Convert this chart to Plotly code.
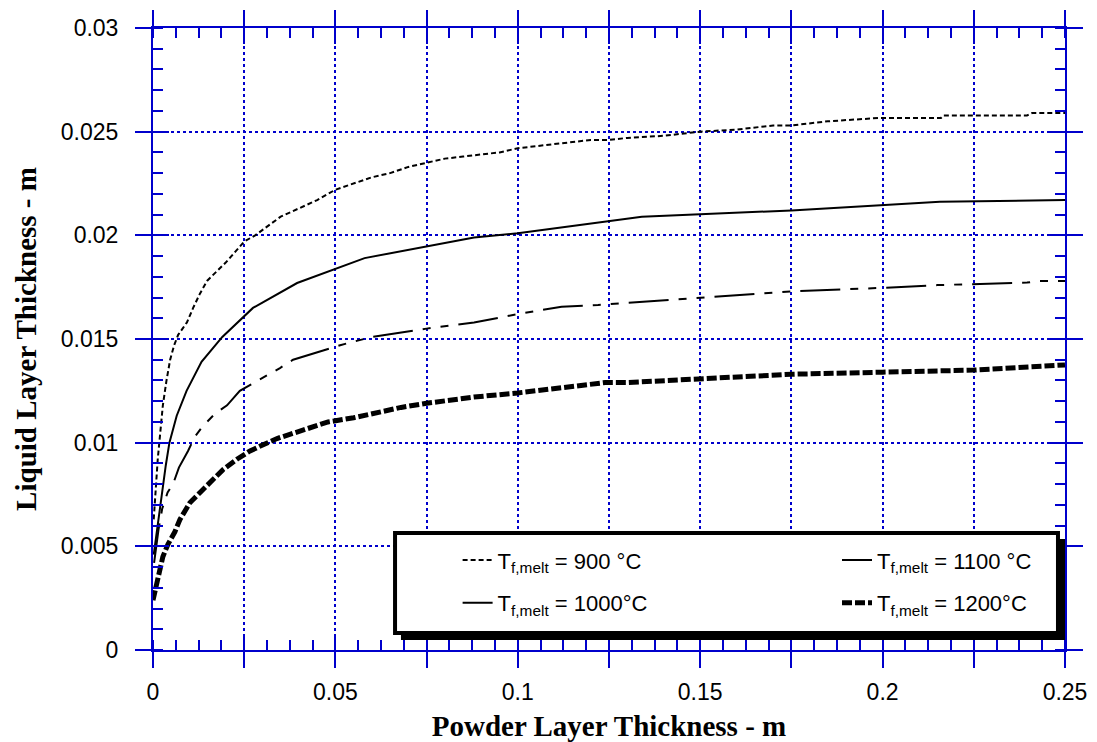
import plotly.graph_objects as go

# ---------------- data ----------------
x900 = [0.0002, 0.0008, 0.0013, 0.0020, 0.0027, 0.0037, 0.0047, 0.0058, 0.0069, 0.0081,
        0.0093, 0.011, 0.0129, 0.0148, 0.017, 0.020, 0.023, 0.025, 0.028, 0.031,
        0.035, 0.040, 0.045, 0.050, 0.055, 0.060, 0.065, 0.070, 0.075, 0.080,
        0.085, 0.090, 0.095, 0.100, 0.110, 0.120, 0.125, 0.130, 0.140, 0.150,
        0.160, 0.170, 0.175, 0.185, 0.199, 0.216, 0.2166, 0.2396, 0.241, 0.25]
y900 = [0.0063, 0.0080, 0.0092, 0.0105, 0.0118, 0.0130, 0.0140, 0.0147, 0.0152, 0.0155,
        0.0158, 0.0165, 0.0172, 0.0178, 0.0182, 0.0187, 0.0193, 0.0197, 0.0200, 0.0204,
        0.0209, 0.0213, 0.0217, 0.0222, 0.0225, 0.0228, 0.0230, 0.0233, 0.0235, 0.0237,
        0.0238, 0.0239, 0.0240, 0.0242, 0.0244, 0.0246, 0.0246, 0.0247, 0.0248, 0.0250,
        0.0251, 0.0253, 0.0253, 0.0255, 0.02566, 0.02566, 0.02578, 0.02578, 0.0259, 0.0259]

x1000 = [0.0002, 0.0005, 0.0015, 0.0025, 0.0035, 0.0045, 0.0065, 0.0092, 0.0133, 0.019,
         0.0274, 0.0395, 0.058, 0.088, 0.100, 0.134, 0.175, 0.2157, 0.25]
y1000 = [0.0046, 0.0050, 0.0064, 0.0077, 0.0089, 0.0100, 0.0113, 0.0125, 0.0139, 0.0151,
         0.0165, 0.0177, 0.0189, 0.0199, 0.0201, 0.0209, 0.0212, 0.02162, 0.0217]

x1100 = [0.0003, 0.0015, 0.0025, 0.0040, 0.0055, 0.0071, 0.0096, 0.0115, 0.0137, 0.017,
         0.0203, 0.0238, 0.0348, 0.0384, 0.0513, 0.060, 0.075, 0.088, 0.100, 0.112,
         0.122, 0.135, 0.150, 0.175, 0.199, 0.215, 0.2396, 0.243, 0.25]
y1100 = [0.0042, 0.0058, 0.0068, 0.0076, 0.0080, 0.0088, 0.0096, 0.0103, 0.0108, 0.0114,
         0.0118, 0.0125, 0.0136, 0.0140, 0.0147, 0.0151, 0.0155, 0.0158, 0.0162, 0.01656,
         0.01664, 0.0168, 0.0170, 0.0173, 0.01746, 0.0176, 0.01772, 0.0178, 0.0178]

x1200 = [0.0000, 0.0008, 0.0019, 0.0027, 0.0041, 0.0060, 0.0074, 0.0101, 0.0129, 0.0156,
         0.0192, 0.023, 0.0266, 0.0302, 0.034, 0.0375, 0.0411, 0.045, 0.048, 0.055,
         0.060, 0.068, 0.075, 0.088, 0.100, 0.1129, 0.124, 0.130, 0.142, 0.1527,
         0.163, 0.175, 0.200, 0.225, 0.25]
y1200 = [0.0024, 0.0031, 0.0040, 0.0045, 0.0051, 0.0057, 0.0063, 0.0071, 0.0076, 0.0081,
         0.0087, 0.0092, 0.0096, 0.0099, 0.0102, 0.0104, 0.0106, 0.0108, 0.0110, 0.0112,
         0.0114, 0.0117, 0.0119, 0.0122, 0.0124, 0.01269, 0.0129, 0.0129, 0.0130, 0.01312,
         0.0132, 0.0133, 0.0134, 0.0135, 0.01375]

series_names = ["T<sub>f,melt</sub> = 900 °C", "T<sub>f,melt</sub> = 1000°C",
                "T<sub>f,melt</sub> = 1100 °C", "T<sub>f,melt</sub> = 1200°C"]

x_tickvals = [0, 0.025, 0.05, 0.075, 0.1, 0.125, 0.15, 0.175, 0.2, 0.225, 0.25]
x_ticktext = ["0", "", "0.05", "", "0.1", "", "0.15", "", "0.2", "", "0.25"]
y_tickvals = [0, 0.005, 0.01, 0.015, 0.02, 0.025, 0.03]
y_ticktext = ["0", "0.005", "0.01", "0.015", "0.02", "0.025", "0.03"]

# ---------------- styling ----------------
BLUE = "#0000CC"
TICKFONT = dict(family="Liberation Sans, Arial, sans-serif", size=23, color="black")
TITLEFONT = dict(family="Liberation Serif, Times New Roman, serif", size=29, color="black")
LEGENDFONT = dict(family="Liberation Sans, Arial, sans-serif", size=22, color="black")

fig = go.Figure()

fig.add_trace(go.Scatter(x=x900, y=y900, mode="lines", name=series_names[0],
                         line=dict(color="black", width=2, dash="5px,3px"),
                         legend="legend", legendgroup="g900"))
fig.add_trace(go.Scatter(x=x1000, y=y1000, mode="lines", name=series_names[1],
                         line=dict(color="black", width=2),
                         legend="legend", legendgroup="g1000"))
fig.add_trace(go.Scatter(x=x1100, y=y1100, mode="lines", name=series_names[2],
                         line=dict(color="black", width=2, dash="40px,10px,8px,10px,8px,10px"),
                         legend="legend2", legendgroup="g1100"))
fig.add_trace(go.Scatter(x=x1200, y=y1200, mode="lines", name=series_names[3],
                         line=dict(color="black", width=5, dash="10px,3px"),
                         legend="legend2", legendgroup="g1200",
                         xaxis="x2", yaxis="y2"))

axis_common = dict(showline=True, linecolor=BLUE, linewidth=2, ticks="outside",
                   ticklen=16, tickwidth=2, tickcolor=BLUE, mirror="allticks",
                   showgrid=True, gridcolor=BLUE, gridwidth=1.5, griddash="dot",
                   zeroline=False, tickfont=TICKFONT, automargin=False)

fig.update_layout(
    width=1097, height=742,
    margin=dict(l=153, r=32, t=28, b=92, autoexpand=False),
    paper_bgcolor="white", plot_bgcolor="white",
    xaxis=dict(range=[0, 0.25], tickmode="array", tickvals=x_tickvals, ticktext=x_ticktext,
               minor=dict(ticks="inside", ticklen=10, tickwidth=2, tickcolor=BLUE,
                          tick0=0, dtick=0.00625, showgrid=False),
               title=dict(text="<b>Powder Layer Thickness - m</b>", font=TITLEFONT, standoff=18),
               ticklabelstandoff=4,
               **axis_common),
    yaxis=dict(range=[0, 0.03], tickmode="array", tickvals=y_tickvals, ticktext=y_ticktext,
               minor=dict(ticks="inside", ticklen=10, tickwidth=2, tickcolor=BLUE,
                          tick0=0, dtick=0.001, showgrid=False),
               title=dict(text="<b>Liquid Layer Thickness - m</b>", font=TITLEFONT, standoff=16),
               ticklabelstandoff=12,
               **axis_common),
    xaxis2=dict(range=[0, 0.25], overlaying="x", anchor="y", side="bottom",
                tickmode="array", tickvals=x_tickvals, ticks="inside", ticklen=16,
                tickwidth=2, tickcolor=BLUE, mirror="allticks", showline=False,
                showgrid=False, zeroline=False, showticklabels=False, automargin=False),
    yaxis2=dict(range=[0, 0.03], overlaying="y", anchor="x", side="left",
                tickmode="array", tickvals=y_tickvals, ticks="inside", ticklen=16,
                tickwidth=2, tickcolor=BLUE, mirror="allticks", showline=False,
                showgrid=False, zeroline=False, showticklabels=False, automargin=False),
    legend=dict(x=0.334, xanchor="left", y=0.178, yanchor="top", orientation="v",
                bgcolor="rgba(0,0,0,0)", borderwidth=0, tracegroupgap=11,
                font=LEGENDFONT),
    legend2=dict(x=0.75, xanchor="left", y=0.178, yanchor="top", orientation="v",
                 bgcolor="rgba(0,0,0,0)", borderwidth=0, tracegroupgap=11,
                 font=LEGENDFONT),
    shapes=[
        dict(type="rect", xref="paper", yref="paper", x0=0.2719, x1=1.0, y0=0.0161, y1=0.1785,
             fillcolor="black", line=dict(width=0), layer="above"),
        dict(type="rect", xref="paper", yref="paper", x0=0.2654, x1=0.9923, y0=0.0273, y1=0.1881,
             fillcolor="white", line=dict(color="black", width=4), layer="above"),
    ],
)

fig.write_html("out.html")
